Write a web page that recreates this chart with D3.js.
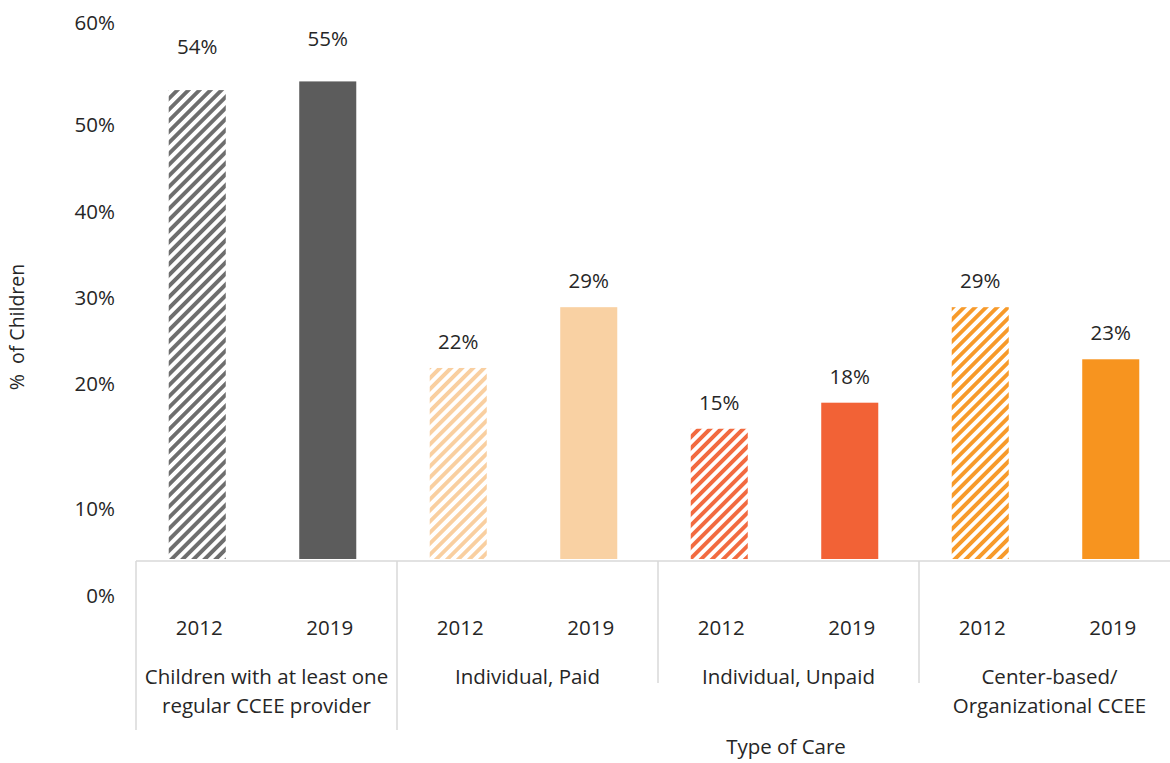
<!DOCTYPE html>
<html>
<head>
<meta charset="utf-8">
<script src="https://cdn.jsdelivr.net/npm/d3@7"></script>
<style>
  html, body { margin: 0; padding: 0; background: #fff; }
  svg { display: block; font-family: "Open Sans", Lato, sans-serif; }
</style>
</head>
<body>
<svg id="chart" width="1170" height="763"></svg>
<script>
// Care types (each label split into its display lines)
const groupLines = [
  ["Children with at least one", "regular CCEE provider"],
  ["Individual, Paid"],
  ["Individual, Unpaid"],
  ["Center-based/", "Organizational CCEE"]
];
const years = ["2012", "2019"];
const values2012 = [54, 22, 15, 29];
const values2019 = [55, 29, 18, 23];
const groupColors = ["#5c5c5c", "#f9d1a3", "#f26236", "#f7941f"];
const hatchColors = ["#6e6e6e", "#f9cfa0", "#f26a3f", "#f79a2a"];
const yTicks = [0, 10, 20, 30, 40, 50, 60];

const svg = d3.select("#chart");
const textColor = "#262626";
const gridColor = "#d9d9d9";
const fontSize = 20.5;

// Flatten to one record per bar
const bars = [];
groupLines.forEach((g, gi) => {
  bars.push({ group: gi, year: years[0], value: values2012[gi], key: gi + "-" + years[0] });
  bars.push({ group: gi, year: years[1], value: values2019[gi], key: gi + "-" + years[1] });
});

// Scales
const y = d3.scaleLinear().domain([0, 60]).range([559, 38]);
const x = d3.scaleBand().domain(bars.map(d => d.key)).range([132, 1176])
  .paddingInner(0.563).paddingOuter(0.2815);
const xGroup = d3.scaleBand().domain(d3.range(groupLines.length)).range([136, 1180]);
// Tick labels of the value axis sit on their own spacing
const yLabel = d3.scaleLinear().domain([0, 10, 20, 50, 60]).range([596, 509, 384, 125, 23]);

// Hatch patterns for the 2012 bars
const defs = svg.append("defs");
hatchColors.forEach((c, i) => {
  const p = defs.append("pattern")
    .attr("id", "hatch" + i)
    .attr("patternUnits", "userSpaceOnUse")
    .attr("width", 7.8).attr("height", 7.8)
    .attr("patternTransform", "rotate(45)");
  p.append("rect").attr("width", 7.8).attr("height", 7.8).attr("fill", "#fff");
  p.append("rect").attr("x", 0).attr("width", 3.9).attr("height", 7.8).attr("fill", c);
});
const soft = defs.append("filter").attr("id", "soft");
soft.append("feGaussianBlur").attr("stdDeviation", 0.6);

// Y-axis tick labels
svg.append("g").selectAll("text").data(yTicks).join("text")
  .attr("x", 115)
  .attr("y", d => yLabel(d))
  .attr("dy", "0.35em")
  .attr("text-anchor", "end")
  .attr("font-size", fontSize)
  .attr("fill", textColor)
  .text(d => d + "%");

// Y-axis title
svg.append("text")
  .attr("transform", "translate(24,327) rotate(-90)")
  .attr("text-anchor", "middle")
  .attr("font-size", 19.5)
  .attr("fill", textColor)
  .attr("xml:space", "preserve")
  .style("white-space", "pre")
  .text("%  of Children");

// Bars
svg.append("g").selectAll("rect").data(bars).join("rect")
  .attr("x", d => x(d.key))
  .attr("width", x.bandwidth())
  .attr("y", d => y(d.value))
  .attr("height", d => y(0) - y(d.value))
  .attr("fill", d => d.year === years[0] ? `url(#hatch${d.group})` : groupColors[d.group])
  .attr("filter", d => d.year === years[0] ? "url(#soft)" : null);

// Value labels
svg.append("g").selectAll("text").data(bars).join("text")
  .attr("x", d => x(d.key) + x.bandwidth() / 2)
  .attr("y", d => y(d.value) - (d.group === 0 ? 43 : 26))
  .attr("dy", "0.35em")
  .attr("text-anchor", "middle")
  .attr("font-size", fontSize)
  .attr("fill", textColor)
  .text(d => d.value + "%");

// Category axis frame
const axisY = y(0) + 2;
svg.append("line")
  .attr("x1", xGroup(0)).attr("x2", 1170)
  .attr("y1", axisY).attr("y2", axisY)
  .attr("stroke", gridColor).attr("stroke-width", 1.5);

const boundaries = d3.range(groupLines.length + 1);
svg.append("g").selectAll("line").data(boundaries).join("line")
  .attr("x1", i => xGroup(0) + i * xGroup.step())
  .attr("x2", i => xGroup(0) + i * xGroup.step())
  .attr("y1", axisY)
  .attr("y2", i => i <= 1 ? 730 : 683)
  .attr("stroke", gridColor).attr("stroke-width", 1.5);

// Year labels
svg.append("g").selectAll("text").data(bars).join("text")
  .attr("x", d => x(d.key) + x.bandwidth() / 2 + 2)
  .attr("y", 628)
  .attr("dy", "0.35em")
  .attr("text-anchor", "middle")
  .attr("font-size", fontSize)
  .attr("fill", textColor)
  .text(d => d.year);

// Group labels
const gl = svg.append("g").selectAll("text").data(groupLines).join("text")
  .attr("text-anchor", "middle")
  .attr("font-size", fontSize)
  .attr("fill", textColor);
gl.selectAll("tspan").data((d, i) => d.map(line => ({ line, gi: i }))).join("tspan")
  .attr("x", d => xGroup(d.gi) + xGroup.bandwidth() / 2)
  .attr("y", (d, j) => 677 + j * 29)
  .attr("dy", "0.35em")
  .text(d => d.line);

// X-axis title
svg.append("text")
  .attr("x", 786).attr("y", 747)
  .attr("dy", "0.35em")
  .attr("text-anchor", "middle")
  .attr("font-size", fontSize)
  .attr("fill", textColor)
  .text("Type of Care");
</script>
</body>
</html>
